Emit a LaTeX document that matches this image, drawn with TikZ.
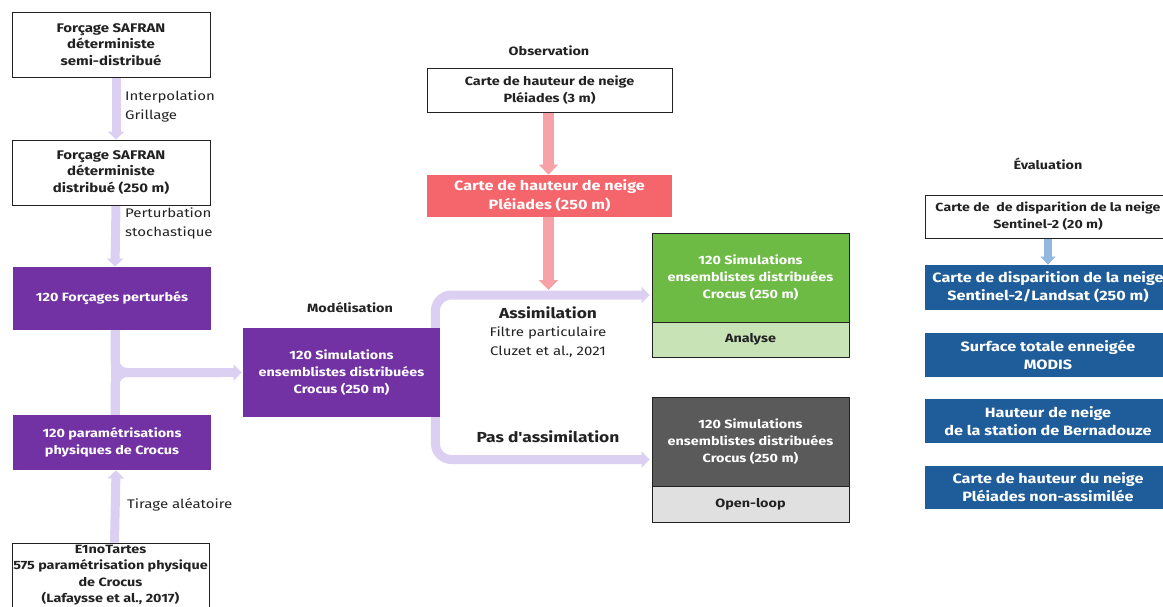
\documentclass[tikz,border=0pt]{standalone}
\usepackage{fontspec}
\setmainfont{Fira Sans}[FakeStretch=1.2]
\newfontfamily\nolig{Fira Sans}[FakeStretch=1.2]
\usetikzlibrary{arrows.meta,backgrounds,calc}
\definecolor{purp}{HTML}{7232A3}
\definecolor{lav}{HTML}{DCD0F2}
\definecolor{pinkarr}{HTML}{F6A2A7}
\definecolor{pinkbox}{HTML}{F4656C}
\definecolor{grn}{HTML}{6DBA45}
\definecolor{lgrn}{HTML}{C8E3B6}
\definecolor{dgray}{HTML}{5A5A5A}
\definecolor{lgray}{HTML}{E0E0E0}
\definecolor{blu}{HTML}{1F5D9A}
\definecolor{lblu}{HTML}{92B8E2}
\definecolor{txt}{HTML}{222222}
\begin{document}
\begin{tikzpicture}[x=1pt,y=-1pt,
  box/.style={line width=0.8pt, align=center, inner sep=0pt,
    font=\fontsize{12}{16.5}\selectfont\bfseries},
  wbox/.style={box, draw=txt, fill=white, text=txt},
  pbox/.style={box, fill=purp, text=white},
  cbox/.style={box, draw=txt, text=white, font=\fontsize{12}{17}\selectfont\bfseries},
  lbox/.style={box, draw=txt, text=txt},
  bbox/.style={box, fill=blu, text=white, font=\fontsize{13.5}{18}\selectfont\bfseries},
  head/.style={font=\fontsize{12}{16}\selectfont\bfseries, text=txt},
  lab/.style={font=\fontsize{12.5}{19}\selectfont, text=txt, align=left, anchor=west, inner sep=0pt},
  lavar/.style={draw=lav, line width=9pt, -{Triangle[width=16pt,length=8pt]}},
  lavln/.style={draw=lav, line width=9pt},
]
\useasboundingbox (0,0) rectangle (1163,606);

% left column
\node[wbox, minimum width=198, minimum height=65, font=\fontsize{12.5}{16.5}\selectfont\bfseries] (b1) at (111,44.5) {Forçage SAFRAN\\déterministe\\semi-distribué};
\node[wbox, minimum width=198, minimum height=65, font=\fontsize{12.5}{16.5}\selectfont\bfseries] (b2) at (111,172.5) {Forçage SAFRAN\\déterministe\\distribué (250 m)};
\node[pbox, minimum width=198, minimum height=63] (pert) at (112,298.5) {120 Forçages perturbés};
\node[pbox, minimum width=198, minimum height=55] (param) at (112,442.5) {120 paramétrisations\\physiques de Crocus};
\node[wbox, minimum width=197, minimum height=64] (e1no) at (110.5,575) {E1noTartes\\575 paramétrisation physique\\de Crocus\\(Lafaysse et al., 2017)};

\node[lab] (interp) at (125,106.5) {Interpolation\\Grillage};
\node[lab] (pertlab) at (125,223) {Perturbation\\stochastique};
\node[lab] (tirage) at (127,505) {Tirage aléatoire};

% modelling
\node[head] (modlab) at (350,308) {Modélisation};
\node[pbox, minimum width=197, minimum height=89, font=\fontsize{12}{17}\selectfont\bfseries] (sim) at (341.5,372.5) {120 Simulations\\ensemblistes distribuées\\Crocus (250 m)};

% observation
\node[head] (obslab) at (549,51) {Observation};
\node[wbox, minimum width=245, minimum height=44] (obs) at (549.5,90) {Carte de hauteur de neige\\Pléiades (3 m)};
\node[box, fill=pinkbox, text=white, minimum width=245, minimum height=42, font=\fontsize{13.5}{19}\selectfont\bfseries] (pinkb) at (549.5,196) {Carte de hauteur de neige\\Pléiades (250 m)};

\node[font=\fontsize{14.5}{18}\selectfont\bfseries, text=txt] (asm) at (548,313) {Assimilation};
\node[font=\fontsize{12.5}{19}\selectfont, text=txt, align=center, inner sep=0pt] (filtre) at (548,342) {Filtre particulaire\\Cluzet et al., 2021};
\node[font=\fontsize{14.5}{18}\selectfont\nolig\bfseries, text=txt] (pas) at (548,437) {Pas d'assimilation};

% results
\node[cbox, fill=grn, minimum width=197, minimum height=89] (simA) at (750.5,277.5) {120 Simulations\\ensemblistes distribuées\\Crocus (250 m)};
\node[lbox, fill=lgrn, minimum width=197, minimum height=35] (ana) at (750.5,339.5) {Analyse};
\node[cbox, fill=dgray, minimum width=197, minimum height=89] (simO) at (750.5,441.5) {120 Simulations\\ensemblistes distribuées\\Crocus (250 m)};
\node[lbox, fill=lgray, minimum width=197, minimum height=36] (ol) at (750.5,504) {Open-loop};

% evaluation
\node[head] (evallab) at (1048,164) {Évaluation};
\node[wbox, minimum width=246, minimum height=43, font=\fontsize{11.8}{17}\selectfont\bfseries] (ev0) at (1048,216.5) {Carte de\ \ de disparition de la neige\\Sentinel-2 (20 m)};
\node[bbox, minimum width=246, minimum height=45] (ev1) at (1048,287.5) {Carte de disparition de la neige\\Sentinel-2/Landsat (250 m)};
\node[bbox, minimum width=246, minimum height=44] (ev2) at (1048,355) {Surface totale enneigée\\MODIS};
\node[bbox, minimum width=246, minimum height=44] (ev3) at (1048,421) {Hauteur de neige\\de la station de Bernadouze};
\node[bbox, minimum width=246, minimum height=43] (ev4) at (1048,487.5) {Carte de hauteur du neige\\Pléiades non-assimilée};

% connectors
\coordinate (jn) at ($(pert.south)+(3,0)$);
\coordinate (jm) at (jn |- sim.west);
\coordinate (br) at ($(sim.east)+(-5,0)$);
\coordinate (tgtA) at ($(simA.north west)!0.5!(ana.south west)$);
\coordinate (tgtO) at ($(simO.north west)!0.5!(ol.south west)$);
\coordinate (pinkend) at ($(pinkb.south |- tgtA)+(-1,-5)$);

\begin{scope}[on background layer]
  \draw[lavar] ($(b1.south)+(5,0)$) -- ($(b2.north)+(5,0)$);
  \draw[lavar] ($(b2.south)+(5,0)$) -- ($(pert.north)+(3,0)$);
  \draw[lavln] (jn) -- ($(param.north)+(3,0)$);
  \draw[lavln, rounded corners=12pt] (jn) |- ($(sim.west)+(-20,0)$);
  \draw[lavln, rounded corners=12pt] ($(param.north)+(3,0)$) |- ($(sim.west)+(-20,0)$);
  \draw[lavar] (jm) -- ($(sim.west)+(-1,0)$);
  \draw[lavar] ($(e1no.north)+(4,0)$) -- ($(param.south)+(4,0)$);
  \draw[lavar, rounded corners=16pt] (br) |- ($(tgtA)+(-2,0)$);
  \draw[lavar, rounded corners=16pt] (br) |- ($(tgtO)+(-2,0)$);
  \draw[draw=pinkarr, line width=11pt, -{Triangle[width=19pt,length=10pt]}] ($(obs.south)+(-1,0)$) -- ($(pinkb.north)+(-1,0)$);
  \draw[draw=pinkarr, line width=11pt, -{Triangle[width=19pt,length=10pt]}] ($(pinkb.south)+(-1,0)$) -- (pinkend);
  \draw[draw=lblu, line width=8pt, -{Triangle[width=15pt,length=8pt]}] (ev0.south) -- (ev1.north);
\end{scope}
\end{tikzpicture}
\end{document}
